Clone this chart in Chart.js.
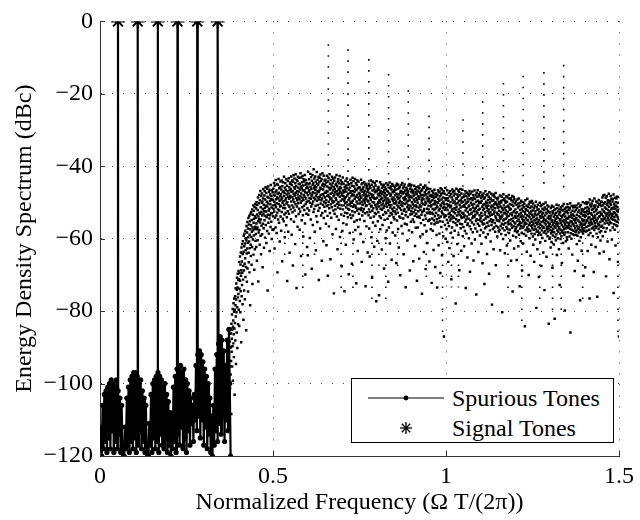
<!DOCTYPE html>
<html><head><meta charset="utf-8">
<script src="https://cdn.jsdelivr.net/npm/chart.js@4/dist/chart.umd.min.js"></script>
<style>
html,body{margin:0;padding:0;background:#fff;}
#wrap{position:relative;width:640px;height:520px;}
#legend{position:absolute;left:351px;top:378px;width:263px;height:65px;box-sizing:border-box;border:1px solid #000;background:#fff;font-family:'Liberation Serif','Times New Roman',Tinos,'DejaVu Serif','Noto Serif',serif;font-size:24px;color:#000;}
.row{position:absolute;left:0;width:260px;height:28px;line-height:28px;}
.row svg{position:absolute;left:14px;top:4px;}
.row span{position:absolute;left:100px;white-space:nowrap;}
</style></head>
<body><div id="wrap"><canvas id="c" width="640" height="520"></canvas>
<div id="legend">
 <div class="row" style="top:5px"><svg width="80" height="20"><line x1="2" y1="10" x2="78" y2="10" stroke="#000" stroke-width="1.2"/><circle cx="40" cy="10" r="2.4" fill="#000"/></svg><span>Spurious Tones</span></div>
 <div class="row" style="top:35px"><svg width="80" height="20"><g stroke="#000" stroke-width="1.3"><line x1="34" y1="10" x2="46" y2="10"/><line x1="40" y1="4" x2="40" y2="16"/><line x1="35.8" y1="5.8" x2="44.2" y2="14.2"/><line x1="35.8" y1="14.2" x2="44.2" y2="5.8"/></g></svg><span>Signal Tones</span></div>
</div></div>
<script>
// ---- axis ticks ----
const xTicks = [0, 0.5, 1, 1.5];
const yTicks = [-120, -100, -80, -60, -40, -20, 0];

// ---- signal tones (dBc) ----
const toneX = [0.052, 0.109, 0.167, 0.224, 0.281, 0.340];
const toneY = [0, 0, 0, 0, 0, 0];

// ---- spurious tones, low band (frequency grid start/step, values in dBc) ----
const spurStart = 0, spurStep = 0.0025;
const spurY = [-119,-112,-120,-106,-118,-103,-116,-102,-119,-101,
-115,-100,-118,-99,-113,-100,-119,-101,-116,-99,
-118,-102,-114,-104,-119,-106,-117,-120,-120,-112,
-118,-104,-117,-101,-119,-99,-116,-98,-118,-97,
-115,-97,-119,-98,-117,-100,-113,-99,-118,-102,
-116,-104,-119,-106,-118,-120,-120,-111,-117,-103,
-119,-100,-115,-99,-118,-98,-116,-97,-119,-98,
-114,-99,-117,-101,-118,-100,-115,-103,-119,-105,
-117,-108,-120,-112,-118,-101,-116,-98,-119,-96,
-114,-95,-117,-95,-112,-97,-118,-96,-115,-99,
-119,-100,-113,-102,-117,-104,-111,-106,-116,-103,
-110,-95,-113,-92,-109,-91,-115,-92,-110,-94,
-117,-96,-112,-98,-118,-100,-114,-104,-119,-109,
-120,-106,-117,-96,-113,-92,-116,-89,-111,-87,
-114,-88,-109,-91,-116,-95,-110,-88,-113,-85,
-100,-120];

// ---- spurious tones, high band (dot cloud), step 0.0005 from each segment start ----
const cloudStep = 0.0005;
const cloud0375 = [-95.2,-88.4,-101.3,-90.1,-84.7,-97.5,-89.9,-86.2,-93.8,-108.4,
-83.5,-91.2,-87.6,-80.9,-95.3,-85.1,-89.7,-79.4,-99.2,-84.3,
-82.6,-88.9,-77.8,-86.4,-92.7,-80.2,-76.5,-84.8,-103.1,-79.6,
-83.3,-75.9,-88.1,-78.4,-73.7,-81.5,-94.6,-76.8,-72.4,-80.3,
-85.9,-74.1,-70.8,-78.9,-90.2,-73.5,-69.7,-76.2,-83.6,-71.4];
const cloud0400 = [-75.3,-68.9,-79.6,-71.2,-66.4,-84.1,-73.8,-69.5,-77.2,-64.9,
-71.6,-80.3,-67.1,-74.5,-63.8,-70.2,-88.6,-68.7,-62.4,-75.9,
-66.3,-72.8,-61.5,-69.4,-78.1,-64.2,-60.7,-71.3,-67.5,-82.4,
-63.6,-59.2,-68.8,-74.3,-62.1,-58.6,-66.9,-76.7,-61.3,-65.4,
-57.8,-70.6,-63.2,-59.9,-67.8,-85.3,-60.4,-56.5,-64.1,-71.9,
-58.3,-62.7,-55.4,-68.2,-61.1,-57.2,-74.6,-59.6,-54.3,-63.9,
-66.5,-56.1,-60.8,-53.7,-69.3,-58.9,-62.6,-55.2,-78.4,-57.4,
-53.1,-61.7,-64.8,-56.3,-52.6,-59.5,-67.2,-54.8,-58.1,-62.3,
-51.9,-72.5,-56.9,-53.4,-60.2,-57.7,-50.8,-64.4,-55.6,-52.3,
-59.1,-54.5,-68.6,-51.2,-57.3,-62.9,-53.8,-50.4,-56.7,-60.6];
const cloud0450 = [-54.2,-58.7,-51.6,-62.3,-55.8,-49.9,-57.4,-66.1,-53.3,-50.7,
-56.9,-60.4,-52.1,-48.6,-55.2,-71.8,-53.9,-58.3,-50.2,-54.6,
-47.9,-57.6,-52.8,-61.7,-49.4,-55.5,-53.1,-46.8,-59.2,-51.3,
-54.7,-64.3,-48.2,-52.6,-56.4,-50.1,-47.5,-58.8,-53.6,-49.7,
-67.9,-51.8,-55.9,-48.9,-46.3,-53.2,-57.1,-50.6,-62.5,-52.4,
-48.1,-54.9,-46.9,-51.5,-59.7,-49.2,-53.7,-45.8,-56.2,-50.9,
-52.5,-47.4,-61.2,-54.1,-49.8,-46.2,-57.9,-51.1,-48.4,-74.3,
-53.4,-50.3,-45.6,-55.6,-48.7,-52.2,-58.6,-47.1,-51.7,-54.4,
-46.5,-63.4,-49.6,-53.5,-47.8,-50.5,-56.8,-45.2,-52.9,-49.1,
-55.3,-48.3,-51.4,-60.1,-46.6,-53.0,-49.3,-57.5,-47.2,-50.8];
const cloud0500 = [-49.3,-53.8,-46.2,-51.7,-57.4,-47.9,-44.6,-52.5,-49.8,-62.7,
-48.1,-45.3,-54.2,-50.6,-47.2,-56.9,-43.8,-51.3,-49.1,-53.6,
-46.7,-58.4,-50.2,-44.9,-48.5,-52.8,-69.3,-47.6,-45.1,-51.9,
-54.7,-48.9,-43.5,-50.4,-47.3,-55.6,-46.1,-52.2,-49.5,-60.8,
-45.7,-51.1,-48.3,-44.2,-53.9,-47.7,-50.9,-57.8,-46.4,-49.2,
-43.9,-52.6,-48.7,-66.2,-45.5,-50.1,-47.1,-54.5,-44.4,-51.5,
-49.6,-46.8,-55.2,-48.2,-42.9,-50.7,-53.3,-47.4,-59.6,-45.9,
-51.6,-44.7,-49.4,-52.9,-46.5,-48.8,-56.3,-43.6,-50.3,-47.8,
-54.1,-45.4,-71.7,-49.9,-46.9,-52.4,-44.1,-48.4,-58.1,-50.8,
-47.5,-43.3,-53.1,-49.0,-45.8,-51.2,-63.9,-46.6,-48.6,-44.8];
const cloud0550 = [-48.2,-44.5,-51.9,-46.3,-54.6,-42.8,-49.7,-47.1,-58.9,-45.2,
-50.8,-43.9,-48.5,-52.7,-46.8,-67.4,-44.3,-49.2,-51.4,-42.5,
-47.6,-55.3,-45.8,-49.9,-43.4,-52.2,-48.1,-46.2,-61.5,-44.7,
-50.5,-42.2,-47.3,-53.8,-45.5,-48.8,-73.6,-43.7,-51.1,-46.9,
-49.4,-44.1,-56.7,-47.8,-42.9,-50.2,-45.9,-48.6,-53.2,-44.9,
-47.0,-51.7,-43.2,-49.1,-57.5,-46.4,-44.8,-52.5,-48.3,-41.9,
-50.1,-45.6,-64.8,-47.5,-43.1,-49.6,-54.9,-46.1,-44.4,-51.3,
-48.7,-42.7,-46.7,-53.5,-45.3,-59.4,-49.3,-43.6,-47.9,-50.9,
-44.2,-52.1,-46.6,-48.4,-42.4,-55.8,-47.2,-69.9,-45.1,-50.4,
-43.8,-48.9,-46.0,-53.1,-44.6,-49.8,-47.4,-62.3,-45.7,-51.6];
const cloud0600 = [-46.0,-64.6,-48.0,-41.5,-53.4,-45.0,-49.6,-47.0,-43.6,-52.2,
-46.6,-48.8,-44.7,-59.8,-50.1,-42.1,-47.5,-45.7,-54.7,-49.0,
-43.0,-51.1,-46.3,-48.2,-68.3,-44.0,-47.8,-50.4,-42.4,-45.2,
-56.2,-47.2,-49.7,-44.6,-52.6,-40.8,-48.7,-46.1,-51.8,-43.4,
-47.4,-45.4,-58.1,-49.1,-42.8,-46.5,-50.9,-44.3,-63.2,-48.3,
-45.8,-53.8,-47.6,-41.6,-49.5,-44.9,-55.4,-46.9,-43.7,-50.7,
-48.6,-45.1,-52.3,-42.9,-47.1,-71.4,-49.2,-44.4,-46.7,-51.5,
-43.2,-48.4,-45.9,-57.2,-42.3,-50.3,-47.9,-44.1,-53.6,-46.2,
-49.4,-43.5,-66.1,-48.9,-45.3,-52.9,-41.9,-47.7,-50.6,-44.8,
-46.4,-60.7,-48.1,-42.6,-54.3,-49.8,-45.6,-51.2,-43.9,-47.3];
const cloud0650 = [-48.6,-45.1,-52.4,-43.7,-50.2,-47.3,-55.9,-44.5,-49.4,-61.8,
-46.8,-42.6,-51.0,-48.2,-45.6,-53.7,-47.0,-70.2,-44.2,-50.7,
-47.9,-43.3,-49.8,-56.6,-45.9,-51.6,-48.5,-42.2,-46.4,-52.9,
-44.8,-49.1,-65.7,-47.6,-43.8,-50.5,-46.1,-54.2,-48.9,-45.3,
-51.3,-42.9,-47.4,-49.6,-58.8,-44.6,-50.0,-46.7,-43.4,-52.2,
-48.3,-45.7,-75.1,-49.7,-44.0,-47.8,-53.1,-46.3,-50.9,-43.1,
-47.1,-51.9,-45.2,-48.8,-57.3,-44.9,-49.3,-42.4,-46.9,-53.9,
-50.4,-45.5,-47.7,-62.9,-44.3,-51.4,-48.0,-43.6,-49.9,-46.2,
-54.8,-47.5,-44.7,-50.6,-46.6,-42.7,-48.4,-59.5,-45.8,-51.7,
-47.2,-43.9,-49.5,-46.0,-53.3,-45.0,-50.8,-67.6,-48.1,-44.4];
const cloud0700 = [-47.5,-57.9,-49.1,-43.1,-51.9,-46.7,-55.7,-48.3,-44.8,-50.8,
-53.7,-47.2,-49.6,-74.5,-45.7,-48.9,-52.8,-46.4,-50.2,-44.0,
-48.5,-61.7,-45.3,-51.4,-47.0,-56.1,-49.9,-43.4,-46.0,-53.0,
-48.1,-50.7,-44.4,-54.1,-47.6,-51.8,-45.1,-49.3,-69.8,-46.5,
-52.0,-44.9,-48.8,-50.5,-58.4,-45.9,-53.4,-47.3,-43.7,-49.8,
-51.0,-46.9,-54.3,-44.6,-48.2,-50.1,-66.9,-45.4,-52.4,-47.7,
-43.2,-49.5,-53.6,-46.8,-51.2,-44.1,-60.2,-48.0,-50.6,-45.6,
-55.3,-47.1,-49.0,-52.7,-43.5,-46.3,-57.6,-50.9,-48.4,-44.7,
-51.5,-72.3,-46.6,-49.7,-54.9,-45.2,-47.9,-52.2,-43.9,-50.3,
-63.4,-46.1,-48.6,-56.8,-44.3,-51.7,-47.4,-53.1,-45.8,-49.2];
const cloud0750 = [-49.4,-47.6,-54.7,-45.9,-50.3,-48.2,-58.7,-46.6,-52.1,-43.7,
-48.7,-51.5,-45.0,-66.4,-49.8,-47.0,-53.6,-44.7,-50.6,-46.3,
-52.5,-48.0,-60.9,-45.8,-49.2,-51.8,-47.4,-44.4,-55.1,-49.6,
-46.8,-50.2,-53.0,-45.2,-48.5,-73.1,-47.8,-51.0,-44.9,-49.1,
-56.6,-46.1,-50.8,-48.3,-45.4,-52.7,-47.1,-63.8,-49.5,-46.5,
-49.7,-46.2,-53.5,-48.1,-44.8,-51.9,-57.2,-47.3,-50.4,-64.9,
-45.5,-52.6,-48.8,-46.0,-54.2,-49.3,-43.9,-51.1,-47.7,-59.6,
-50.9,-45.1,-48.4,-70.8,-52.3,-46.7,-49.9,-44.3,-55.5,-47.9,
-51.6,-48.6,-45.7,-53.9,-50.0,-62.2,-46.4,-49.0,-44.6,-52.9,
-47.2,-50.7,-56.4,-45.3,-48.9,-53.2,-46.9,-77.3,-51.3,-44.1];
const cloud0800 = [-46.9,-51.9,-48.7,-60.6,-50.5,-46.2,-55.2,-47.7,-49.9,-52.7,
-45.7,-48.0,-51.1,-75.6,-46.5,-49.4,-53.8,-47.3,-50.0,-44.4,
-57.4,-48.3,-51.7,-46.9,-54.3,-49.1,-45.0,-50.8,-47.6,-63.0,
-52.0,-46.0,-48.8,-56.2,-50.3,-45.5,-47.1,-53.4,-49.6,-51.5,
-45.1,-48.1,-68.2,-46.6,-50.9,-54.8,-47.4,-49.2,-45.8,-52.6,
-48.4,-59.9,-46.3,-50.4,-53.0,-44.7,-49.7,-47.9,-57.7,-51.2,
-46.8,-48.9,-54.5,-45.2,-50.1,-47.0,-71.9,-52.2,-49.3,-45.9,
-56.9,-50.6,-47.5,-53.7,-44.5,-49.8,-61.3,-46.1,-51.4,-48.2,
-52.9,-45.6,-47.8,-55.6,-50.7,-46.4,-65.8,-49.0,-53.3,-44.9,
-51.8,-47.2,-58.3,-49.5,-52.4,-45.3,-48.6,-54.1,-46.7,-50.2];
const cloud0850 = [-51.4,-47.1,-54.6,-49.2,-45.8,-52.5,-48.0,-59.1,-46.5,-50.3,
-53.2,-45.4,-49.7,-66.7,-47.6,-51.9,-44.8,-55.0,-48.4,-50.8,
-46.3,-52.8,-49.0,-57.3,-45.1,-51.2,-47.8,-62.4,-50.1,-46.0,
-53.9,-48.7,-45.7,-51.5,-49.5,-70.1,-47.3,-54.2,-46.8,-50.6,
-48.2,-52.1,-45.2,-56.5,-49.9,-47.0,-53.1,-44.6,-51.0,-58.6,
-47.5,-50.2,-46.1,-54.4,-48.8,-64.3,-45.6,-52.3,-49.3,-47.2,
-51.8,-45.0,-55.9,-48.5,-50.4,-46.7,-53.5,-73.4,-49.1,-47.7,
-52.6,-45.9,-50.0,-48.1,-56.1,-46.4,-51.3,-60.5,-47.4,-49.6,
-54.0,-46.9,-50.7,-45.3,-52.0,-48.6,-57.7,-47.9,-51.6,-44.9,
-49.4,-68.8,-46.2,-53.3,-48.3,-50.9,-45.5,-55.3,-47.0,-52.4];
const cloud0900 = [-45.2,-48.6,-53.2,-49.9,-58.2,-46.5,-51.6,-47.4,-54.7,-50.5,
-46.9,-66.2,-48.2,-52.7,-49.2,-55.4,-45.4,-51.0,-47.8,-53.7,
-49.7,-62.0,-46.3,-52.0,-47.1,-57.0,-50.8,-48.8,-53.1,-45.8,
-51.2,-47.6,-71.6,-49.4,-54.0,-46.7,-50.1,-56.9,-48.3,-52.4,
-45.6,-47.0,-53.9,-49.0,-51.4,-65.5,-46.1,-48.5,-54.2,-50.7,
-47.3,-59.4,-52.1,-45.1,-48.0,-55.7,-51.1,-46.8,-53.4,-49.3,
-50.0,-75.2,-46.4,-52.6,-48.7,-58.8,-47.9,-50.4,-54.8,-45.7,
-49.1,-52.3,-63.7,-46.0,-51.8,-48.1,-56.3,-47.2,-50.6,-53.6,
-45.3,-49.8,-68.4,-47.7,-54.5,-50.2,-46.6,-57.9,-48.9,-52.8,
-45.9,-51.7,-61.2,-48.4,-53.0,-46.2,-49.6,-55.1,-47.5,-50.9];
const cloud0950 = [-51.9,-55.0,-49.1,-47.1,-66.3,-52.6,-50.0,-54.7,-48.2,-46.3,
-53.1,-49.7,-57.4,-51.1,-47.9,-55.8,-50.7,-72.2,-48.5,-52.8,
-46.8,-54.4,-49.4,-51.8,-57.8,-48.1,-53.2,-47.3,-63.1,-50.5,
-54.9,-48.7,-52.1,-46.5,-56.0,-50.3,-53.8,-49.6,-67.8,-47.8,
-51.6,-55.6,-48.4,-52.9,-47.5,-59.0,-50.8,-54.6,-49.9,-73.5,
-51.3,-48.0,-55.5,-50.1,-46.6,-53.5,-49.0,-61.8,-52.2,-47.2,
-54.3,-49.5,-58.6,-47.0,-51.7,-55.2,-48.3,-69.5,-50.6,-46.1,
-53.9,-51.0,-47.7,-56.8,-49.2,-52.5,-46.4,-64.6,-53.0,-50.2,
-47.4,-55.3,-51.5,-48.6,-59.3,-49.8,-53.3,-46.9,-87.0,-51.2,
-50.4,-54.1,-47.6,-52.0,-56.2,-48.8,-46.0,-53.6,-60.0,-49.3];
const cloud1000 = [-53.7,-49.2,-51.5,-57.3,-47.9,-54.8,-50.4,-46.6,-60.9,-52.1,
-48.8,-55.6,-51.0,-66.4,-49.5,-53.2,-47.4,-56.5,-50.7,-54.1,
-62.6,-48.3,-52.8,-46.9,-55.0,-51.3,-49.9,-58.4,-53.5,-47.7,
-50.9,-71.2,-54.4,-48.6,-52.3,-56.9,-46.4,-51.8,-49.3,-59.7,
-53.9,-47.2,-55.4,-50.1,-64.8,-52.6,-48.1,-54.2,-46.8,-51.6,
-57.8,-49.7,-53.0,-47.6,-55.7,-50.5,-77.9,-52.0,-48.9,-54.6,
-46.2,-51.2,-56.3,-49.0,-53.6,-61.5,-47.8,-50.2,-55.2,-48.4,
-52.7,-46.7,-58.9,-51.9,-49.6,-54.9,-47.1,-68.7,-53.3,-50.6,
-48.0,-55.9,-52.4,-46.3,-51.4,-57.1,-49.4,-53.8,-63.3,-47.5,
-50.0,-54.3,-48.7,-56.0,-52.9,-46.5,-51.1,-59.3,-49.8,-53.1];
const cloud1050 = [-52.9,-56.8,-48.5,-54.1,-50.7,-62.1,-47.8,-53.6,-51.2,-57.9,
-49.4,-55.3,-46.9,-52.2,-73.6,-50.3,-54.7,-48.2,-58.6,-51.6,
-47.3,-53.9,-50.0,-56.2,-65.2,-48.9,-52.6,-55.8,-49.7,-47.6,
-54.5,-51.1,-59.9,-48.1,-53.3,-50.8,-46.8,-56.6,-52.0,-69.1,
-49.1,-54.9,-47.5,-51.9,-57.4,-50.1,-53.1,-48.8,-61.3,-52.8,
-55.5,-47.0,-50.6,-54.3,-49.3,-58.2,-51.4,-47.9,-53.7,-66.0,
-48.6,-52.4,-56.1,-50.4,-46.7,-54.0,-51.8,-60.2,-49.0,-53.4,
-57.2,-48.0,-51.5,-55.1,-49.8,-75.4,-52.5,-47.4,-54.6,-50.9,
-58.0,-48.4,-53.0,-46.6,-55.9,-51.0,-49.5,-63.7,-52.1,-54.8,
-47.7,-50.2,-56.4,-48.3,-53.5,-51.7,-59.1,-49.9,-55.0,-47.2];
const cloud1100 = [-54.2,-50.1,-57.6,-48.7,-52.9,-61.4,-49.5,-55.3,-47.9,-53.7,
-51.2,-66.8,-48.3,-56.0,-52.1,-50.6,-58.3,-47.5,-54.8,-51.7,
-49.0,-55.9,-72.5,-50.4,-53.3,-48.6,-57.1,-52.6,-46.9,-54.4,
-59.6,-51.0,-49.8,-56.7,-48.0,-53.9,-51.5,-64.2,-50.2,-55.6,
-47.7,-52.3,-58.8,-49.3,-54.0,-50.9,-56.4,-48.4,-53.0,-69.7,
-51.9,-47.2,-55.2,-50.0,-57.7,-53.6,-49.1,-52.7,-60.8,-48.9,
-54.6,-51.3,-47.6,-56.2,-50.8,-53.4,-78.2,-49.6,-55.4,-52.0,
-48.1,-57.3,-51.1,-54.9,-49.4,-62.9,-53.1,-47.8,-56.9,-50.5,
-52.5,-48.5,-55.7,-51.6,-58.1,-49.9,-53.8,-47.4,-67.3,-54.3,
-50.3,-56.5,-48.8,-52.8,-55.0,-50.7,-59.4,-49.2,-53.2,-51.4];
const cloud1150 = [-54.8,-48.7,-56.9,-51.3,-53.4,-58.0,-49.9,-52.3,-55.2,-50.5,
-57.6,-53.9,-48.1,-63.2,-54.5,-51.1,-56.5,-49.6,-52.7,-58.7,
-50.0,-54.1,-48.4,-55.9,-51.5,-80.3,-53.6,-57.1,-49.3,-52.1,
-60.1,-55.0,-47.7,-56.1,-50.8,-52.9,-54.7,-48.9,-57.7,-51.6,
-64.0,-53.0,-49.5,-55.7,-50.1,-59.0,-52.2,-54.4,-48.3,-56.8,
-51.2,-53.3,-61.9,-49.8,-54.0,-57.3,-48.6,-52.6,-55.4,-50.9,
-70.4,-56.0,-53.7,-47.9,-58.4,-51.4,-54.9,-49.0,-52.0,-57.5,
-50.4,-60.5,-53.1,-55.8,-48.8,-51.8,-66.1,-54.6,-49.4,-56.3,
-50.6,-53.5,-57.0,-48.2,-52.8,-74.6,-55.1,-49.7,-59.2,-51.0,
-54.3,-48.5,-56.6,-52.4,-62.7,-49.1,-55.5,-50.2,-57.9,-53.8];
const cloud1200 = [-55.8,-51.9,-57.4,-53.0,-49.7,-59.6,-54.2,-56.8,-50.6,-65.9,
-52.7,-58.2,-55.1,-49.2,-53.8,-57.9,-51.4,-56.3,-62.1,-50.3,
-54.7,-48.9,-58.9,-53.3,-56.0,-51.0,-73.1,-55.4,-52.1,-57.2,
-50.1,-54.0,-60.7,-52.9,-56.5,-49.5,-55.7,-53.6,-58.4,-51.7,
-68.8,-54.5,-50.8,-57.0,-52.4,-55.2,-61.3,-49.9,-53.9,-56.6,
-51.3,-58.7,-54.9,-50.4,-56.1,-52.6,-84.2,-55.5,-53.1,-49.4,
-57.6,-51.8,-54.3,-59.2,-52.0,-55.9,-50.9,-63.6,-53.5,-56.9,
-49.0,-54.8,-52.3,-58.0,-55.0,-51.2,-57.3,-53.7,-70.0,-50.5,
-56.2,-52.8,-59.9,-54.1,-49.8,-55.6,-51.5,-57.8,-53.2,-64.7,
-50.0,-56.4,-52.5,-54.6,-58.6,-51.1,-55.3,-49.6,-57.1,-53.4];
const cloud1250 = [-56.3,-52.2,-59.4,-54.1,-50.3,-61.7,-55.8,-57.5,-51.6,-53.9,
-66.4,-55.0,-58.7,-50.9,-56.6,-53.1,-60.2,-52.4,-57.3,-54.7,
-49.8,-55.6,-79.1,-53.5,-58.1,-51.3,-56.0,-54.4,-62.9,-52.0,
-57.8,-50.6,-55.3,-59.0,-53.2,-56.8,-51.9,-70.6,-54.9,-58.4,
-52.7,-55.9,-50.1,-57.1,-53.8,-61.0,-56.2,-51.0,-54.2,-58.9,
-52.5,-67.5,-55.4,-50.7,-57.7,-53.3,-56.5,-59.8,-51.7,-54.0,
-57.0,-52.9,-63.8,-55.1,-50.4,-58.3,-54.5,-56.9,-52.1,-74.2,
-55.7,-51.4,-57.9,-53.6,-60.6,-54.8,-50.0,-56.1,-52.8,-58.6,
-55.2,-65.0,-51.8,-57.4,-53.0,-56.7,-50.8,-59.3,-54.3,-52.3,
-58.0,-55.5,-51.1,-57.2,-83.5,-53.7,-56.4,-52.6,-60.0,-54.6];
const cloud1300 = [-55.9,-59.7,-52.8,-57.6,-54.2,-62.4,-51.5,-56.8,-58.5,-53.6,
-60.9,-55.3,-50.9,-57.9,-54.9,-68.0,-52.4,-56.2,-59.1,-53.0,
-57.3,-51.2,-55.7,-61.6,-54.0,-58.2,-52.1,-56.6,-82.1,-55.1,
-53.4,-59.5,-51.8,-57.0,-54.5,-60.4,-52.9,-56.0,-58.8,-50.6,
-55.4,-64.5,-53.8,-57.7,-51.6,-56.4,-59.9,-54.3,-52.5,-58.1,
-55.8,-50.8,-57.2,-62.9,-53.3,-56.9,-51.9,-72.8,-55.0,-58.6,
-52.7,-54.6,-60.1,-57.5,-51.3,-55.6,-53.7,-59.3,-52.0,-56.3,
-66.7,-54.1,-57.8,-51.0,-55.2,-58.4,-53.5,-61.2,-52.2,-56.7,
-54.8,-50.4,-57.4,-53.1,-59.0,-55.5,-51.7,-79.8,-56.1,-53.9,
-58.3,-52.6,-55.0,-60.7,-51.4,-57.1,-54.4,-56.5,-52.3,-59.6];
const cloud1350 = [-60.3,-55.5,-50.5,-56.8,-53.0,-58.2,-54.4,-51.3,-57.0,-62.7,
-53.9,-56.3,-52.1,-55.7,-59.4,-51.6,-54.0,-57.3,-50.2,-85.9,
-55.1,-58.5,-52.8,-56.6,-53.5,-60.0,-51.0,-55.3,-57.5,-54.2,
-64.4,-52.3,-56.0,-58.8,-53.3,-51.4,-55.9,-57.8,-50.9,-54.7,
-59.0,-53.7,-56.5,-52.5,-68.9,-55.0,-51.2,-57.1,-54.5,-58.1,
-55.6,-52.0,-58.9,-54.3,-50.8,-57.7,-61.5,-53.4,-56.4,-51.5,
-59.2,-54.8,-66.1,-52.6,-57.2,-55.0,-50.3,-58.3,-53.8,-56.9,
-52.2,-60.6,-55.4,-51.1,-57.6,-77.0,-54.1,-56.2,-52.9,-59.6,
-50.7,-55.8,-53.2,-58.0,-63.3,-51.8,-56.7,-54.6,-52.4,-57.4,
-55.2,-49.9,-58.6,-53.6,-56.1,-70.2,-51.9,-54.9,-57.9,-52.7];
const cloud1400 = [-57.1,-53.5,-56.1,-50.2,-54.0,-67.9,-51.5,-55.5,-52.7,-58.0,
-53.7,-49.9,-56.8,-54.9,-50.4,-52.3,-57.8,-55.0,-51.3,-63.4,
-53.2,-56.5,-54.3,-50.0,-59.0,-52.5,-55.6,-51.8,-57.5,-54.1,
-76.5,-49.2,-56.3,-53.0,-50.6,-58.4,-54.7,-51.1,-55.3,-52.9,
-61.7,-56.0,-50.3,-53.4,-57.2,-52.0,-55.8,-49.5,-54.5,-59.3,
-51.7,-56.9,-53.9,-50.9,-69.2,-55.1,-52.6,-57.6,-48.9,-54.2,
-56.4,-51.4,-53.6,-55.7,-50.8,-62.3,-57.0,-52.2,-54.8,-49.7,
-58.6,-51.9,-55.2,-53.1,-76.0,-56.6,-50.1,-54.4,-59.6,-51.2,
-55.9,-52.8,-57.3,-49.3,-54.0,-56.2,-50.6,-64.1,-53.8,-58.2,
-50.5,-55.4,-52.6,-60.5,-56.7,-49.8,-53.3,-57.9,-51.0,-54.6];
const cloud1450 = [-53.2,-49.8,-56.4,-51.9,-48.6,-55.1,-59.3,-50.7,-53.8,-48.1,
-57.0,-52.4,-63.6,-50.2,-54.5,-52.6,-47.9,-55.8,-51.4,-54.3,
-49.9,-58.1,-53.0,-48.7,-55.0,-70.4,-51.7,-53.7,-50.4,-57.1,
-48.3,-53.2,-50.8,-55.6,-60.8,-49.4,-54.2,-52.1,-50.0,-54.8,
-52.8,-47.6,-56.1,-51.2,-53.6,-65.7,-49.5,-52.5,-55.3,-50.3,
-57.7,-53.1,-48.2,-54.3,-50.6,-55.7,-51.9,-49.0,-54.5,-60.2,
-51.5,-53.7,-49.7,-53.2,-56.9,-49.1,-51.6,-54.8,-47.8,-75.0,
-52.7,-56.0,-50.4,-54.1,-51.1,-57.5,-48.7,-52.9,-55.0,-51.8,
-61.9,-49.9,-53.5,-56.3,-50.9,-48.9,-53.4,-55.3,-48.4,-52.3,
-56.5,-51.3,-54.0,-50.1,-66.4,-52.5,-48.5,-54.6,-52.1,-55.5,-87.0];
const cloudSegments = [
  [0.375, cloud0375], [0.400, cloud0400], [0.450, cloud0450], [0.500, cloud0500],
  [0.550, cloud0550], [0.600, cloud0600], [0.650, cloud0650], [0.700, cloud0700],
  [0.750, cloud0750], [0.800, cloud0800], [0.850, cloud0850], [0.900, cloud0900],
  [0.950, cloud0950], [1.000, cloud1000], [1.050, cloud1050], [1.100, cloud1100],
  [1.150, cloud1150], [1.200, cloud1200], [1.250, cloud1250], [1.300, cloud1300],
  [1.350, cloud1350], [1.400, cloud1400], [1.450, cloud1450]];

// ---- aliased tone spikes above the floor (top value) and dips below it ----
const spikeX   = [0.660, 0.717, 0.777, 0.834, 0.891, 0.951, 1.049, 1.106, 1.166, 1.223, 1.283, 1.340];
const spikeTop = [-6.3, -7.7, -10.4, -14.5, -19, -26, -27, -22, -17, -15, -14, -12];
const spikeBase = -46;
const dipX      = [0.534, 0.586, 0.620, 0.697, 0.731, 0.786, 0.806, 0.826, 0.860, 0.943, 0.990, 1.016, 1.036, 1.179, 1.219, 1.271, 1.308, 1.333, 1.395, 1.497];
const dipBottom = [-67, -74, -66, -75, -76, -78, -67.5, -77, -70, -73, -87, -73.5, -73.5, -75, -84, -79, -82, -80, -77, -87];
const dipBase = -58;

// ---- build datasets ----
const spurData = spurY.map((y, i) => ({x: spurStart + i * spurStep, y}))
  .concat(toneX.map((x, i) => ({x, y: toneY[i]})))
  .sort((a, b) => a.x - b.x);
const toneData = toneX.map((x, i) => ({x, y: toneY[i]}));
const cloudData = [];
cloudSegments.forEach(([x0, ys]) => ys.forEach((y, i) => cloudData.push({x: x0 + i * cloudStep, y})));
const spikeData = [];
spikeX.forEach((x, i) => { spikeData.push({x, y: spikeTop[i]}, {x, y: spikeBase}, {x, y: null}); });
const dipData = [];
dipX.forEach((x, i) => { dipData.push({x, y: dipBase}, {x, y: dipBottom[i]}, {x, y: null}); });

const FONT = "'Liberation Serif', 'Times New Roman', Tinos, 'DejaVu Serif', 'Noto Serif', serif";
Chart.defaults.font.family = FONT;
Chart.defaults.color = '#000';

const innerTicks = {
  id: 'innerTicks',
  afterDraw(chart) {
    const {ctx, chartArea: a, scales: {x, y}} = chart;
    ctx.save();
    ctx.strokeStyle = '#333';
    ctx.lineWidth = 1;
    ctx.beginPath();
    xTicks.forEach(v => { const p = Math.round(x.getPixelForValue(v)) + 0.5; ctx.moveTo(p, a.bottom); ctx.lineTo(p, a.bottom - 5); });
    yTicks.forEach(v => { const p = Math.round(y.getPixelForValue(v)) + 0.5; ctx.moveTo(a.left, p); ctx.lineTo(a.left + 5, p); });
    ctx.stroke();
    ctx.restore();
  }
};

new Chart(document.getElementById('c'), {
  type: 'line',
  data: {
    datasets: [
      {label: 'Signal Tones', data: toneData, showLine: false, pointStyle: 'star', pointRadius: 7,
       pointBorderWidth: 2, pointBorderColor: '#000', pointBackgroundColor: '#000', order: 0},
      {label: 'Spurious Tones', data: spurData, borderColor: '#000', borderWidth: 2.2,
       pointRadius: 2.6, pointBackgroundColor: '#000', pointBorderWidth: 0, tension: 0, order: 1},
      {label: 'floor', data: cloudData, showLine: false, pointStyle: 'rect', pointRadius: 1.75,
       pointBackgroundColor: '#000', pointBorderWidth: 0, order: 2},
      {label: 'spikes', data: spikeData, borderColor: '#000', borderWidth: 1.6, borderDash: [1.6, 9.4],
       pointRadius: 0, spanGaps: false, order: 3},
      {label: 'dips', data: dipData, borderColor: '#000', borderWidth: 1.6, borderDash: [1.6, 9.4],
       pointRadius: 0, spanGaps: false, order: 3}
    ]
  },
  options: {
    responsive: false,
    animation: false,
    devicePixelRatio: 1,
    layout: {padding: {top: 16, right: 15, left: 0, bottom: 0}},
    plugins: {legend: {display: false}, tooltip: {enabled: false}},
    scales: {
      x: {
        type: 'linear', min: 0, max: 1.5,
        afterBuildTicks: s => { s.ticks = xTicks.map(v => ({value: v})); },
        afterFit: s => { s.height = 64; },
        ticks: {color: '#000', font: {size: 24, family: FONT}, padding: 6, maxRotation: 0,
                callback: v => String(v)},
        grid: {color: '#444', lineWidth: 1, drawTicks: false},
        border: {display: true, color: '#333', width: 1, dash: [1, 10]},
        title: {display: true, text: 'Normalized Frequency (Ω T/(2π))', color: '#000',
                font: {size: 24, family: FONT}, padding: {top: 3, bottom: 3}}
      },
      y: {
        type: 'linear', min: -120, max: 0,
        afterBuildTicks: s => { s.ticks = yTicks.map(v => ({value: v})); },
        afterFit: s => { s.width = 100; },
        ticks: {color: '#000', font: {size: 24, family: FONT}, padding: 7,
                callback: v => String(v).replace('-', '\u2212')},
        grid: {color: '#444', lineWidth: 1, drawTicks: false},
        border: {display: true, color: '#333', width: 1, dash: [1, 10]},
        title: {display: true, text: 'Energy Density Spectrum (dBc)', color: '#000',
                font: {size: 24, family: FONT}, padding: {top: 10, bottom: 10}}
      }
    }
  },
  plugins: [innerTicks]
});
</script>
</body></html>
